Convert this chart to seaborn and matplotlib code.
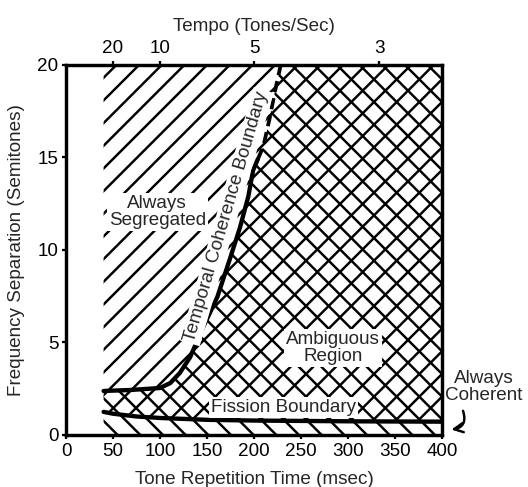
import numpy as np
import pandas as pd
import matplotlib.pyplot as plt
import seaborn as sns

# Temporal coherence boundary, solid part (ms, semitones)
tcb_ms = [40, 68, 100, 111, 121, 132, 146, 161, 174, 185, 194, 199, 204]
tcb_st = [2.38, 2.43, 2.54, 2.81, 3.35, 4.2, 5.84, 7.46, 9.46, 11.2, 12.9, 14.3, 14.9]
# dashed continuation to the top of the chart
tcb_dash_ms = [204, 210, 217, 222, 228]
tcb_dash_st = [14.9, 15.6, 17.2, 18.5, 19.9]

# Fission boundary
fission_ms = [40, 50, 75, 100, 150, 200, 300, 400]
fission_st = [1.25, 1.15, 1.0, 0.92, 0.82, 0.78, 0.74, 0.72]

x_ticks = [0, 50, 100, 150, 200, 250, 300, 350, 400]
y_ticks = [0, 5, 10, 15, 20]
tempo_ticks = [20, 10, 5, 3]

DPI = 136
FS = 10.0

sns.set_theme(style="ticks")
plt.rcParams['font.family'] = ['Liberation Sans', 'DejaVu Sans']
plt.rcParams['hatch.linewidth'] = 1.3
plt.rcParams['hatch.color'] = 'black'

fig = plt.figure(figsize=(528 / DPI, 487 / DPI), dpi=DPI)
ax = fig.add_axes([0.125, 0.1068, 0.7121, 0.7598])

# "can segregate" region: above fission boundary
ax.fill_between(fission_ms, fission_st, 20, hatch='//', facecolor='none',
                edgecolor='black', linewidth=0)
# "can be coherent" region: below temporal coherence boundary
coh_x = tcb_ms + tcb_dash_ms[1:] + [230, 400]
coh_y = tcb_st + tcb_dash_st[1:] + [20, 20]
ax.fill_between(coh_x, 0, coh_y, hatch='\\\\', facecolor='none',
                edgecolor='black', linewidth=0)

# boundaries
sns.lineplot(x=tcb_ms, y=tcb_st, color='black', linewidth=2.3, sort=False,
             estimator=None, ax=ax)
sns.lineplot(x=tcb_dash_ms, y=tcb_dash_st, color='black', linewidth=2.0,
             linestyle=(0, (3, 1.6)), sort=False, estimator=None, ax=ax)
sns.lineplot(x=fission_ms, y=fission_st, color='black', linewidth=2.3,
             sort=False, estimator=None, ax=ax)

ax.set_xlim(0, 400)
ax.set_ylim(0, 20)
ax.set_xticks(x_ticks)
ax.set_yticks(y_ticks)
ax.set_xlabel('Tone Repetition Time (msec)', fontsize=FS, labelpad=6)
ax.set_ylabel('Frequency Separation (Semitones)', fontsize=FS, labelpad=6.5)
ax.tick_params(axis='both', labelsize=FS, length=2, width=1.2, pad=2,
               color='black', labelcolor='black')

for s in ax.spines.values():
    s.set_visible(True)
    s.set_linewidth(1.7)
    s.set_color('black')

# tempo axis on top
ax2 = ax.twiny()
ax2.set_xlim(0, 400)
ax2.set_xticks([1000 / t for t in tempo_ticks])
ax2.set_xticklabels([str(t) for t in tempo_ticks])
ax2.set_xlabel('Tempo (Tones/Sec)', fontsize=FS, labelpad=5)
ax2.tick_params(axis='x', labelsize=FS, length=2, width=1.2, pad=2,
                color='black', labelcolor='black')
for s in ax2.spines.values():
    s.set_linewidth(1.7)
    s.set_color('black')

box = dict(facecolor='white', edgecolor='none', pad=1.0)
ax.text(97, 12.05, 'Always\nSegregated', ha='center', va='center',
        fontsize=FS, linespacing=1.0, bbox=box)
ax.text(171, 11.8, 'Temporal Coherence Boundary', ha='center', va='center',
        rotation=73.7, rotation_mode='anchor', fontsize=FS, bbox=box)
ax.text(284, 4.7, 'Ambiguous\nRegion', ha='center', va='center',
        fontsize=FS, linespacing=1.0, bbox=box)
ax.text(231, 1.5, 'Fission Boundary', ha='center', va='center',
        fontsize=FS, bbox=box)
ax.text(444, 2.6, 'Always\nCoherent', ha='center', va='center',
        fontsize=FS, linespacing=1.0, clip_on=False)
ax.annotate('', xy=(406, 0.27), xytext=(421, 1.5),
            arrowprops=dict(arrowstyle='->', connectionstyle='arc3,rad=-0.7',
                            lw=1.3, color='black'),
            annotation_clip=False)

fig.savefig('out.png', dpi=DPI)
